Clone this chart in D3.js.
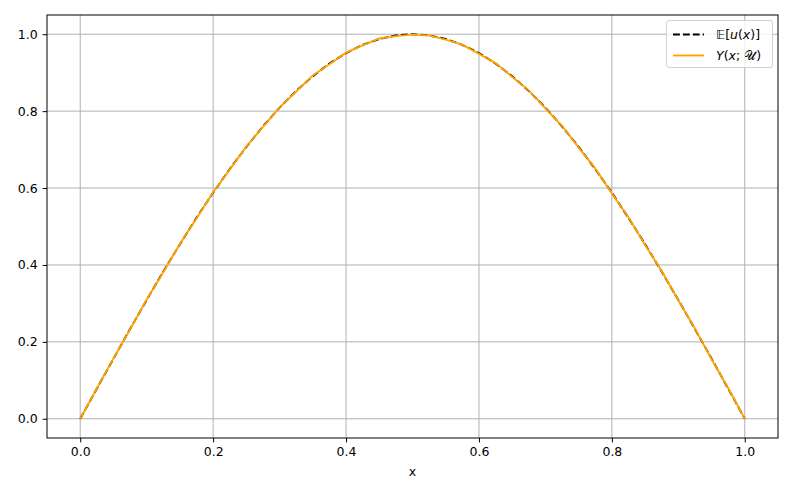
<!DOCTYPE html>
<html><head><meta charset="utf-8">
<script src="https://cdn.jsdelivr.net/npm/d3@7"></script>
<style>body{margin:0;background:#fff}svg{display:block;font-family:"DejaVu Sans",sans-serif}</style>
</head><body><svg id="c" width="793" height="496"></svg>
<script>
const xs = [0,0.025,0.05,0.075,0.1,0.125,0.15,0.175,0.2,0.225,0.25,0.275,0.3,0.325,0.35,0.375,0.4,0.425,0.45,0.475,0.5,0.525,0.55,0.575,0.6,0.625,0.65,0.675,0.7,0.725,0.75,0.775,0.8,0.825,0.85,0.875,0.9,0.925,0.95,0.975,1];
const meanU = [0,0.0785,0.1564,0.2334,0.309,0.3827,0.454,0.5225,0.5878,0.6494,0.7071,0.7604,0.809,0.8526,0.891,0.9239,0.9511,0.9724,0.9877,0.9969,1.0,0.9969,0.9877,0.9724,0.9511,0.9239,0.891,0.8526,0.809,0.7604,0.7071,0.6494,0.5878,0.5225,0.454,0.3827,0.309,0.2334,0.1564,0.0785,0];
const surrogate = [0,0.079,0.157,0.232,0.31,0.381,0.455,0.521,0.589,0.648,0.708,0.759,0.81,0.851,0.893,0.922,0.952,0.971,0.989,0.995,0.999,0.997,0.986,0.973,0.949,0.925,0.889,0.854,0.807,0.762,0.705,0.651,0.586,0.524,0.452,0.384,0.308,0.235,0.155,0.08,0];
const xTicks = [0,0.2,0.4,0.6,0.8,1.0];
const yTicks = [0,0.2,0.4,0.6,0.8,1.0];
// legend labels as runs: [text, italic?]
const legendLabels = [
  [["\u{1D53C}",false],["[",false],["u",true],["(",false],["x",true],[")]",false]],
  [["Y",true],["(",false],["x",true],["; ",false],["\u{1D4B0}",false],[")",false]]
];

const svg = d3.select("#c");
const L=47,R=778,T=15,B=438;
const FS=12.5;
const x = d3.scaleLinear().domain([-0.05,1.05]).range([L,R]);
const y = d3.scaleLinear().domain([-0.05,1.05]).range([B,T]);

// grid
svg.append("g").selectAll("line").data(xTicks).join("line")
  .attr("x1",d=>x(d)).attr("x2",d=>x(d)).attr("y1",T).attr("y2",B)
  .attr("stroke","#b0b0b0").attr("stroke-width",1);
svg.append("g").selectAll("line").data(yTicks).join("line")
  .attr("x1",L).attr("x2",R).attr("y1",d=>y(d)).attr("y2",d=>y(d))
  .attr("stroke","#b0b0b0").attr("stroke-width",1);

const line = d3.line().x((d,i)=>x(xs[i])).y(d=>y(d));
svg.append("path").datum(meanU).attr("d",line).attr("fill","none")
  .attr("stroke","#000").attr("stroke-width",1.9).attr("stroke-dasharray","6.9,3");
svg.append("path").datum(surrogate).attr("d",line).attr("fill","none")
  .attr("stroke","#ffa500").attr("stroke-width",1.9);

// axes
const xa = svg.append("g").attr("transform",`translate(0,${B})`)
  .call(d3.axisBottom(x).tickValues(xTicks).tickFormat(d3.format(".1f")).tickSize(4.4).tickPadding(4.4));
const ya = svg.append("g").attr("transform",`translate(${L},0)`)
  .call(d3.axisLeft(y).tickValues(yTicks).tickFormat(d3.format(".1f")).tickSize(4.4).tickPadding(5));
[xa,ya].forEach(a=>{a.select(".domain").remove();a.selectAll("text").attr("font-size",FS).attr("font-family","DejaVu Sans").attr("fill","#000");a.selectAll(".tick line").attr("stroke","#000").attr("stroke-width",1);});
svg.append("rect").attr("x",L).attr("y",T).attr("width",R-L).attr("height",B-T)
  .attr("fill","none").attr("stroke","#000").attr("stroke-width",1);

svg.append("text").attr("x",(L+R)/2).attr("y",476).attr("text-anchor","middle")
  .attr("font-size",FS).text("x");

// legend
const lg = svg.append("g");
lg.append("rect").attr("x",666.5).attr("y",20.5).attr("width",106).attr("height",47).attr("rx",2.5)
  .attr("fill","#fff").attr("fill-opacity",0.8).attr("stroke","#d0d0d0");
const styles=[{c:"#000",d:"6.9,3"},{c:"#ffa500",d:null}];
legendLabels.forEach((runs,i)=>{
  const yy=34.5+i*21;
  lg.append("line").attr("x1",673).attr("x2",704).attr("y1",yy).attr("y2",yy)
    .attr("stroke",styles[i].c).attr("stroke-width",1.9).attr("stroke-dasharray",styles[i].d);
  const t = lg.append("text").attr("x",716).attr("y",yy+4.5).attr("font-size",FS);
  runs.forEach(([s,it])=>t.append("tspan").attr("font-style",it?"italic":"normal").text(s));
});
</script></body></html>
